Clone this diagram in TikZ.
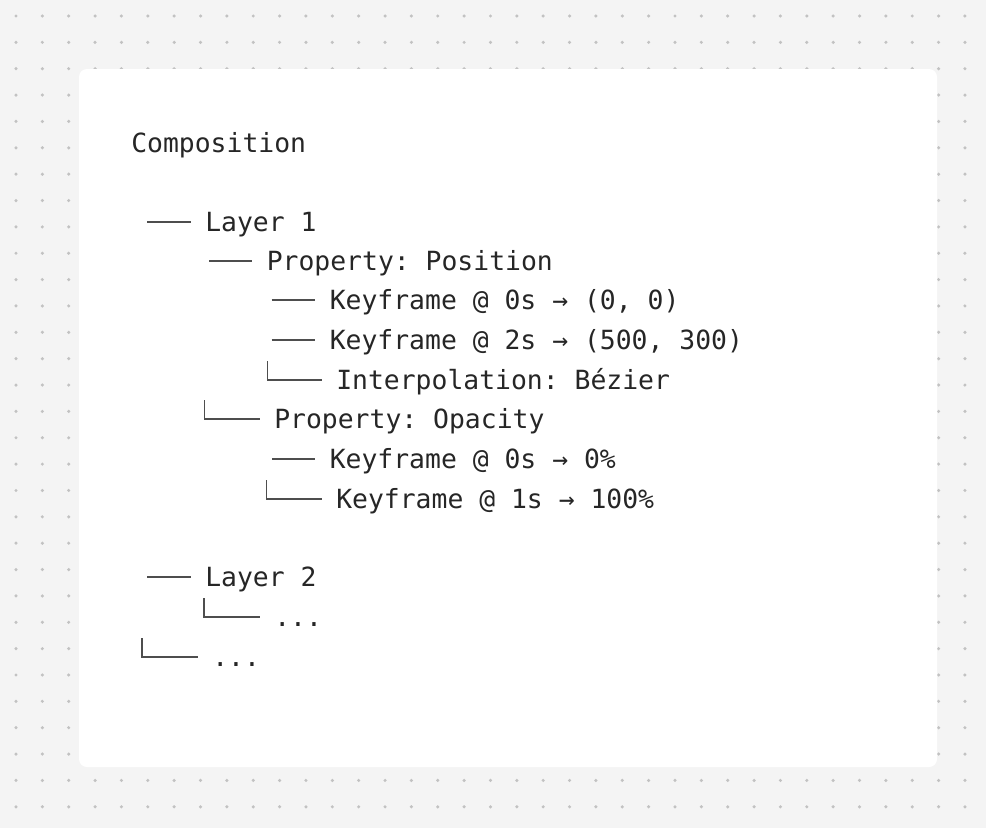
\documentclass[tikz,border=0pt]{standalone}
\usepackage{fontspec}
\newfontfamily\treefont{DejaVu Sans Mono}
\definecolor{paper}{HTML}{F4F4F4}
\definecolor{dotgray}{HTML}{C2C2C2}
\definecolor{ink}{HTML}{262626}
\definecolor{wire}{HTML}{4E4E4E}
\begin{document}
\begin{tikzpicture}[x=0.75pt, y=-0.75pt,
            lbl/.style={anchor=west, inner sep=0pt, text height=14.4pt, text depth=0pt,
              text=ink, font=\treefont\fontsize{19.8pt}{24pt}\selectfont\frenchspacing},
            branch/.style={draw=wire, line width=1.05pt, shorten >=10.8pt}]
            % background with dot grid and card
            \fill[paper] (0,0) rectangle (986,828);
            \foreach \i in {0,...,36}
              \foreach \j in {0,...,30}
                \fill[dotgray] (16+26.36*\i, 16+26.36*\j) circle[radius=1.3pt];
            \fill[white, rounded corners=6pt] (79,69) rectangle (937,767);
            % labels
            \node[lbl] (comp) at (131,142.5) {Composition};
            \node[lbl] (lay1) at (205,222) {Layer 1};
            \node[lbl] (pos) at (266.5,261) {Property: Position};
            \node[lbl] (kfa) at (329.5,300) {Keyframe @ 0s → (0, 0)};
            \node[lbl] (kfb) at (329.5,340) {Keyframe @ 2s → (500, 300)};
            \node[lbl] (interp) at (336,380) {Interpolation: Bézier};
            \node[lbl] (opac) at (274,419) {Property: Opacity};
            \node[lbl] (kfc) at (329.5,459) {Keyframe @ 0s → 0\%};
            \node[lbl] (kfd) at (336,499) {Keyframe @ 1s → 100\%};
            \node[lbl] (lay2) at (205,577) {Layer 2};
            \node[lbl] (more2) at (274,617) {...};
            \node[lbl] (more) at (212,657) {...};
            % branch starts
            \coordinate (b1) at (147,222);
            \coordinate (b2) at (209,261);
            \coordinate (b3) at (271.5,300);
            \coordinate (b4) at (271.5,340);
            \coordinate (b5) at (267.3,361);
            \coordinate (b6) at (204.3,400);
            \coordinate (b7) at (272,459);
            \coordinate (b8) at (266.7,480);
            \coordinate (b9) at (147,577);
            \coordinate (b10) at (204,598);
            \coordinate (b11) at (142,638);
            % branches
            \draw[branch] (b1) -- (lay1);
            \draw[branch] (b2) -- (pos);
            \draw[branch] (b3) -- (kfa);
            \draw[branch] (b4) -- (kfb);
            \draw[branch] (b5) |- (interp);
            \draw[branch] (b6) |- (opac);
            \draw[branch] (b7) -- (kfc);
            \draw[branch] (b8) |- (kfd);
            \draw[branch] (b9) -- (lay2);
            \draw[branch] (b10) |- (more2);
            \draw[branch] (b11) |- (more);
          \end{tikzpicture}
\end{document}
